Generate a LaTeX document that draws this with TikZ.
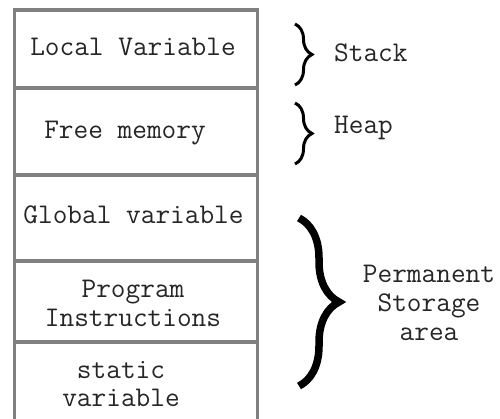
\documentclass[tikz,border=0pt]{standalone}
\usetikzlibrary{decorations.pathreplacing}

\tikzset{
  memline/.style={draw=black!50, line width=3.5pt},
  memtext/.style={font=\ttfamily\fontsize{28.5}{28.8}\selectfont, text=black!85, align=center, inner sep=0pt},
  smallbrace/.style={decorate, decoration={brace, amplitude=17pt}, line width=3pt},
  bigbrace/.style={decorate, decoration={brace, amplitude=40pt}, line width=7.5pt}
}

\begin{document}
\begin{tikzpicture}[x=1pt, y=-1pt]
\useasboundingbox (0,0) rectangle (500,419);

%memory column
\draw[memline] (14.5,425) -- (14.5,10) -- (257.5,10) -- (257.5,425);
\foreach \yy in {88,175,261,342}
  \draw[memline] (14.5,\yy) -- (257.5,\yy);

%segments
\node[memtext] (local) at (133,47) {Local Variable};
\node[memtext] (free) at (125,133) {Free memory};
\node[memtext] (global) at (133.5,215) {Global variable};
\node[memtext] (prog) at (133,303) {Program\\Instructions};
\node[memtext] (static) at (121,384) {static\\variable};

%braces
\coordinate (stacktop) at (295,24);
\coordinate (stackbot) at (295,85);
\coordinate (heaptop) at (295,103);
\coordinate (heapbot) at (295,164);
\coordinate (permtop) at (299,218);
\coordinate (permbot) at (299,386);
\draw[smallbrace] (stacktop) -- (stackbot);
\draw[smallbrace] (heaptop) -- (heapbot);
\draw[bigbrace] (permtop) -- (permbot);

%labels
\node[memtext, anchor=west] (stack) at (334,53) {Stack};
\node[memtext, anchor=west] (heap) at (334,128) {Heap};
\node[memtext] (perm) at (429,303) {Permanent\\Storage\\area};
\end{tikzpicture}
\end{document}
